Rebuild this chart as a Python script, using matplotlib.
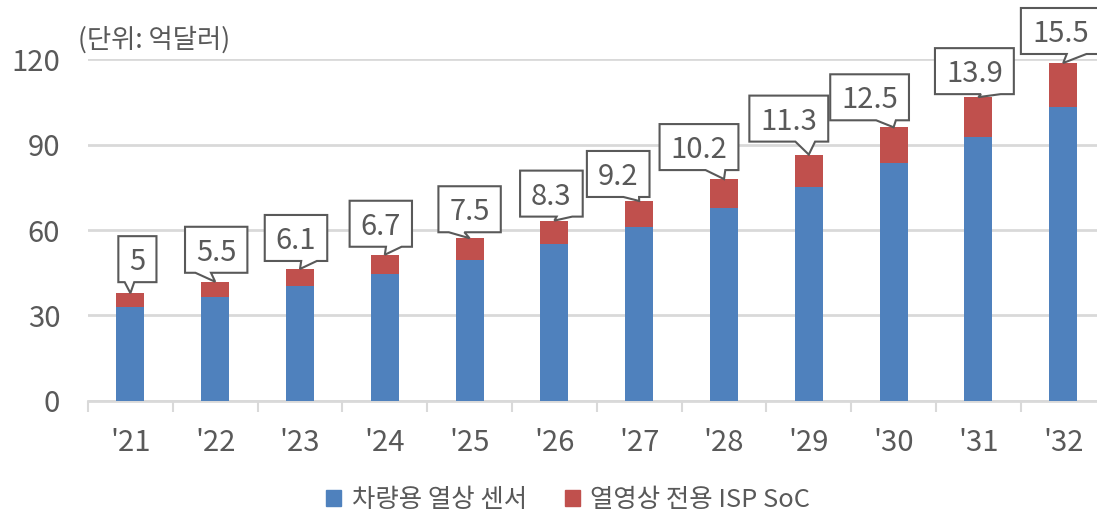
import matplotlib
matplotlib.use("Agg")
import matplotlib.pyplot as plt
import matplotlib.transforms as mtransforms
from matplotlib.patches import Polygon, Patch

plt.rcParams['font.family'] = ['Noto Sans CJK KR', 'DejaVu Sans']

# data (억달러)
years = ["'21", "'22", "'23", "'24", "'25", "'26", "'27", "'28", "'29", "'30", "'31", "'32"]
sensor = [32.8, 36.3, 40.2, 44.6, 49.6, 55.0, 61.0, 67.7, 75.2, 83.6, 92.8, 103.2]
isp_soc = [5, 5.5, 6.1, 6.7, 7.5, 8.3, 9.2, 10.2, 11.3, 12.5, 13.9, 15.5]
isp_labels = ["5", "5.5", "6.1", "6.7", "7.5", "8.3", "9.2", "10.2", "11.3", "12.5", "13.9", "15.5"]

# callout box centre relative to bar top, in pixels (layout only)
callout_offsets = [(7, 34), (1, 32), (-4, 31), (-4, 31), (0, 29), (-3, 27),
                   (-21, 27), (-25, 32), (-20, 36), (-24, 30), (-4, 26), (-3, 32)]

BLUE = "#4F81BD"
RED = "#C0504D"
GRID = "#D9D9D9"
TEXT = "#595959"
EDGE = "#595959"

W, H = 1097, 513
fig = plt.figure(figsize=(W / 100, H / 100), dpi=100)
ax = fig.add_axes([88 / W, 1 - 400.7 / H, 1017.6 / W, 341.4 / H])

x = list(range(len(years)))
totals = [s + r for s, r in zip(sensor, isp_soc)]
ax.bar(x, sensor, width=0.33, color=BLUE, zorder=2)
ax.bar(x, isp_soc, bottom=sensor, width=0.33, color=RED, zorder=2)

ax.set_ylim(0, 120)
ax.set_xlim(-0.5, len(years) - 0.5)
ax.set_yticks([0, 30, 60, 90, 120])
ax.yaxis.grid(True, color=GRID, linewidth=2, zorder=0)
ax.set_axisbelow(True)
for side in ["top", "right", "left"]:
    ax.spines[side].set_visible(False)
ax.spines["bottom"].set_color(GRID)
ax.spines["bottom"].set_linewidth(2)
ax.spines["bottom"].set_zorder(1)

ax.set_xticks(x)
ax.set_xticklabels(years)
ax.set_xticks([i - 0.5 for i in range(len(years) + 1)], minor=True)
ax.tick_params(axis="x", which="major", length=0, pad=20, labelsize=21, labelcolor=TEXT)
ax.tick_params(axis="x", which="minor", length=8, width=1.5, color=GRID, direction="out")
ax.tick_params(axis="y", length=0, pad=20, labelsize=21, labelcolor=TEXT)

fig.text(78 / W, 1 - 40 / H, "(단위: 억달러)", fontsize=19, color=TEXT, va="center", ha="left")

handles = [Patch(color=BLUE, label="차량용 열상 센서"), Patch(color=RED, label="열영상 전용 ISP SoC")]
fig.legend(handles=handles, loc="center", bbox_to_anchor=(0.518, 1 - 500 / H), ncol=2,
           frameon=False, fontsize=18.3, handlelength=0.6, handleheight=0.6,
           handletextpad=0.4, columnspacing=1.5, labelcolor=TEXT)

# callouts
fig.canvas.draw()
renderer = fig.canvas.get_renderer()
ident = mtransforms.IdentityTransform()
cap = 22
box_h = 46
for i, (lab, off) in enumerate(zip(isp_labels, callout_offsets)):
    tx, ty = ax.transData.transform((i, totals[i]))
    cx, cy = tx + off[0], ty + off[1]
    t = fig.text(cx, cy - cap / 2, lab, transform=ident, ha="center", va="baseline",
                 fontsize=21, color=TEXT, zorder=5)
    bb = t.get_window_extent(renderer)
    bw = bb.width + 22
    x0, x1 = cx - bw / 2, cx + bw / 2
    y0, y1 = cy - box_h / 2, cy + box_h / 2
    if tx > cx:
        b1, b2 = x0 + bw * 7 / 12, x0 + bw * 10 / 12
    else:
        b1, b2 = x0 + bw * 2 / 12, x0 + bw * 5 / 12
    verts = [(x0, y0), (b1, y0), (tx, ty), (b2, y0), (x1, y0), (x1, y1), (x0, y1)]
    fig.add_artist(Polygon(verts, closed=True, transform=ident, facecolor="white",
                           edgecolor=EDGE, linewidth=1.5, zorder=4))

fig.savefig("out.png", dpi=100)
